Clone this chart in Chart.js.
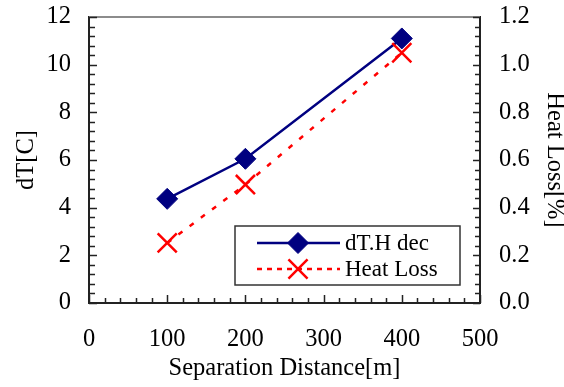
<!DOCTYPE html>
<html>
<head>
<meta charset="utf-8">
<script src="https://cdn.jsdelivr.net/npm/chart.js@4/dist/chart.umd.min.js"></script>
<style>
  html, body { margin: 0; padding: 0; background: #fff; }
  #wrap { width: 564px; height: 387px; }
</style>
</head>
<body>
<div id="wrap"><canvas id="chart"></canvas></div>
<script>
// data
const distance = [100, 200, 400];
const dTdec = [4.37, 6.05, 11.1];
const heatLoss = [0.252, 0.497, 1.05];
const seriesNames = ['dT.H dec', 'Heat Loss'];

const FONT = '"Liberation Serif", "Times New Roman", serif';

function toPoints(xs, ys) {
  return xs.map((x, i) => ({ x: x, y: ys[i] }));
}

// inward tick marks + grey top edge
const frame = {
  id: 'frame',
  afterDatasetsDraw(chart) {
    const ctx = chart.ctx;
    const a = chart.chartArea;
    ctx.save();
    ctx.strokeStyle = '#8c8c8c';
    ctx.lineWidth = 2;
    ctx.beginPath();
    ctx.moveTo(a.left, a.top);
    ctx.lineTo(a.right, a.top);
    ctx.stroke();

    ctx.strokeStyle = '#222';
    ctx.lineWidth = 1.5;
    const x = chart.scales.x, y = chart.scales.y, y1 = chart.scales.y1;
    ctx.beginPath();
    for (let v = 0; v <= 500; v += 20) {
      const px = Math.round(x.getPixelForValue(v)) + 0.5;
      const len = v % 100 === 0 ? 8 : 5;
      ctx.moveTo(px, a.bottom);
      ctx.lineTo(px, a.bottom - len);
    }
    for (let i = 0; i <= 30; i++) {
      const v = i * 0.4;
      const py = Math.round(y.getPixelForValue(v)) + 0.5;
      const len = i % 5 === 0 ? 8 : 6;
      ctx.moveTo(a.left, py);
      ctx.lineTo(a.left + len, py);
    }
    for (let i = 0; i <= 30; i++) {
      const v = i * 0.04;
      const py = Math.round(y1.getPixelForValue(v)) + 0.5;
      const len = i % 5 === 0 ? 7 : 5;
      ctx.moveTo(a.right, py);
      ctx.lineTo(a.right - len, py);
    }
    ctx.stroke();
    ctx.restore();
  }
};

// legend box inside the plot, lower right
const boxLegend = {
  id: 'boxLegend',
  afterDraw(chart) {
    const ctx = chart.ctx;
    const a = chart.chartArea;
    const w = 225, h = 59;
    const left = a.right - 20 - w;
    const top = a.bottom - 18 - h;
    ctx.save();
    ctx.fillStyle = '#fff';
    ctx.fillRect(left, top, w, h);
    ctx.strokeStyle = '#333';
    ctx.lineWidth = 1.5;
    ctx.strokeRect(left, top, w, h);
    chart.data.datasets.forEach((ds, i) => {
      const ry = top + 17 + i * 26;
      ctx.strokeStyle = ds.borderColor;
      ctx.lineWidth = ds.borderWidth;
      ctx.setLineDash(i === 1 ? [5, 5] : []);
      ctx.beginPath();
      ctx.moveTo(left + 22, ry);
      ctx.lineTo(left + 105, ry);
      ctx.stroke();
      ctx.setLineDash([]);
      ctx.fillStyle = ds.pointBackgroundColor;
      ctx.strokeStyle = ds.pointBorderColor;
      ctx.lineWidth = ds.pointBorderWidth;
      Chart.helpers.drawPoint(ctx, {
        pointStyle: ds.pointStyle,
        radius: ds.pointRadius,
        rotation: 0,
        borderWidth: ds.pointBorderWidth
      }, left + 63, ry);
      ctx.fillStyle = '#000';
      ctx.font = '23px ' + FONT;
      ctx.textBaseline = 'middle';
      ctx.textAlign = 'left';
      ctx.fillText(ds.label, left + 110, ry + 1);
    });
    ctx.restore();
  }
};

const tickFont = { family: FONT, size: 24.5 };

function noPad(s) {
  s.paddingTop = 0;
  s.paddingBottom = 0;
  s.paddingLeft = 0;
  s.paddingRight = 0;
}

new Chart(document.getElementById('chart'), {
  type: 'line',
  data: {
    datasets: [
      {
        label: seriesNames[0],
        data: toPoints(distance, dTdec),
        yAxisID: 'y',
        borderColor: '#000080',
        backgroundColor: '#000080',
        borderWidth: 2.5,
        pointStyle: 'rectRot',
        pointRadius: 10.5,
        pointBorderWidth: 1,
        pointBackgroundColor: '#000080',
        pointBorderColor: '#000080',
        order: 1
      },
      {
        label: seriesNames[1],
        data: toPoints(distance, heatLoss),
        yAxisID: 'y1',
        borderColor: '#ff0000',
        backgroundColor: '#ff0000',
        borderWidth: 2.5,
        borderDash: [5, 9],
        pointStyle: 'crossRot',
        pointRadius: 13.5,
        pointBorderWidth: 2.5,
        pointBackgroundColor: '#ff0000',
        pointBorderColor: '#ff0000',
        order: 0
      }
    ]
  },
  options: {
    responsive: true,
    maintainAspectRatio: false,
    animation: false,
    layout: { padding: { top: 17, left: 0, right: 0, bottom: 0 } },
    plugins: {
      legend: { display: false },
      tooltip: { enabled: false }
    },
    scales: {
      x: {
        type: 'linear',
        min: 0,
        max: 500,
        ticks: { stepSize: 100, color: '#000', font: tickFont, padding: 22, maxRotation: 0 },
        grid: { display: false, drawTicks: false },
        border: { display: true, color: '#222', width: 2 },
        title: { display: true, text: 'Separation Distance[m]', color: '#000', font: tickFont, padding: { bottom: 4 } },
        afterFit(s) { s.height = 84; noPad(s); }
      },
      y: {
        position: 'left',
        min: 0,
        max: 12,
        ticks: { stepSize: 2, color: '#000', font: tickFont, padding: 18 },
        grid: { display: false, drawTicks: false },
        border: { display: true, color: '#222', width: 2 },
        title: { display: true, text: 'dT[C]', color: '#000', font: tickFont, padding: { top: 12 } },
        afterFit(s) { s.width = 89; noPad(s); }
      },
      y1: {
        position: 'right',
        min: 0,
        max: 1.2,
        ticks: { stepSize: 0.2, color: '#000', font: tickFont, padding: 19, callback: v => v.toFixed(1) },
        grid: { display: false, drawTicks: false },
        border: { display: true, color: '#222', width: 2 },
        title: { display: true, text: 'Heat Loss[%]', color: '#000', font: tickFont, padding: { top: -5 } },
        afterFit(s) { s.width = 84; noPad(s); }
      }
    }
  },
  plugins: [frame, boxLegend]
});
</script>
</body>
</html>
